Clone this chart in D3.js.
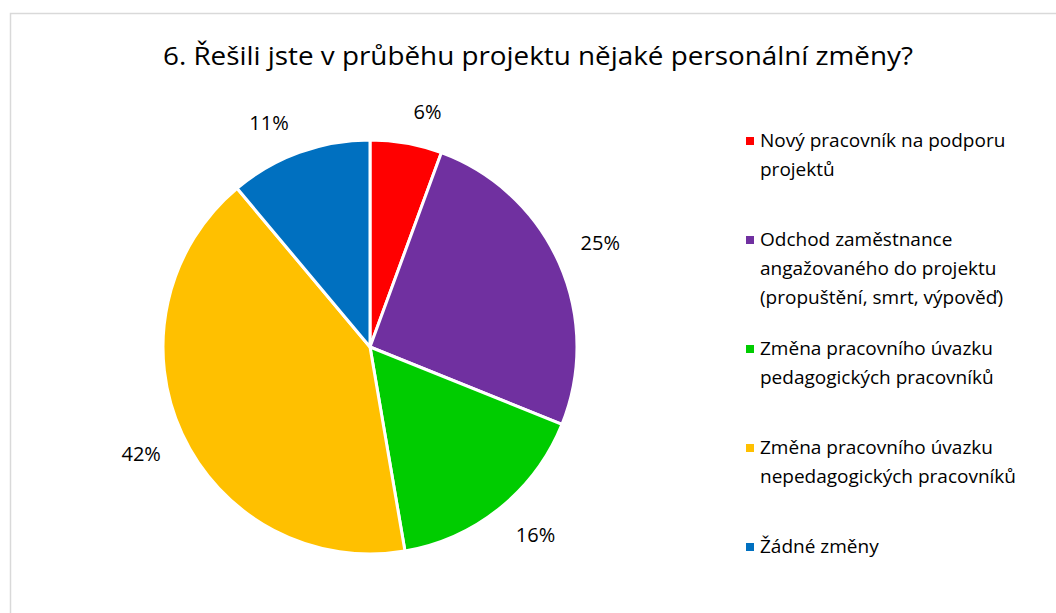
<!DOCTYPE html>
<html>
<head>
<meta charset="utf-8">
<script src="https://cdn.jsdelivr.net/npm/d3@7"></script>
<style>
  body { margin: 0; background: #fff; }
  svg text { font-family: "Open Sans", "Liberation Sans", sans-serif; fill: #000; }
</style>
</head>
<body>
<svg id="chart" width="1056" height="613"></svg>
<script>
var categories = [
  ['Nový pracovník na podporu', 'projektů'],
  ['Odchod zaměstnance', 'angažovaného do projektu', '(propuštění, smrt, výpověď)'],
  ['Změna pracovního úvazku', 'pedagogických pracovníků'],
  ['Změna pracovního úvazku', 'nepedagogických pracovníků'],
  ['Žádné změny']
];
var values = [5.6, 25.5, 16.2, 41.6, 11.1];
var labels = ['6%', '25%', '16%', '42%', '11%'];
var colors = ['#FF0000', '#7030A0', '#00CC00', '#FFC000', '#0070C0'];
var legendY = [147, 246, 355, 454, 553];

var CX = 370, CY = 347, R = 207;
var LABEL_GAP = 19;   // distance from pie edge to nearest corner of label box
var LABEL_H = 24;
var LINE_H = 29;

var svg = d3.select('#chart');

// outer frame of the chart area
svg.append('rect')
    .attr('x', 10.5).attr('y', 13.5)
    .attr('width', 1060).attr('height', 620)
    .attr('fill', 'none')
    .attr('stroke', '#d9d9d9')
    .attr('stroke-width', 1.5);

svg.append('text')
    .attr('x', 538).attr('y', 65)
    .attr('text-anchor', 'middle')
    .style('font-size', '25px')
    .attr('textLength', 750)
    .attr('lengthAdjust', 'spacingAndGlyphs')
    .text('6. Řešili jste v průběhu projektu nějaké personální změny?');

var pie = d3.pie().sort(null).value(function (d) { return d; });
var arcs = pie(values);
var arc = d3.arc().innerRadius(0).outerRadius(R);

var g = svg.append('g').attr('transform', 'translate(' + CX + ',' + CY + ')');

g.selectAll('.slice')
    .data(arcs)
    .enter().append('path')
    .attr('class', 'slice')
    .attr('d', arc)
    .attr('fill', function (d, i) { return colors[i]; })
    .attr('stroke', '#fff')
    .attr('stroke-width', 3)
    .attr('stroke-linejoin', 'round');

// labels sit outside the pie: nearest corner of the text box touches a ring
var lbl = g.selectAll('.lbl')
    .data(arcs)
    .enter().append('text')
    .attr('class', 'lbl')
    .attr('text-anchor', 'middle')
    .attr('dy', '0.35em')
    .style('font-size', '20px')
    .text(function (d, i) { return labels[i]; });

lbl.attr('transform', function (d) {
    var a = (d.startAngle + d.endAngle) / 2,
        s = Math.sin(a), c = Math.cos(a),
        w = this.getComputedTextLength() + 8,
        x = s * (R + LABEL_GAP) + Math.sign(s) * w / 2,
        y = -c * (R + LABEL_GAP) - Math.sign(c) * LABEL_H / 2;
    return 'translate(' + x + ',' + y + ')';
});

var legend = svg.selectAll('.leg')
    .data(categories)
    .enter().append('g')
    .attr('class', 'leg')
    .attr('transform', function (d, i) { return 'translate(746,' + legendY[i] + ')'; });

legend.append('rect')
    .attr('x', 0).attr('y', -10)
    .attr('width', 8).attr('height', 8)
    .attr('fill', function (d, i) { return colors[i]; });

legend.append('text')
    .attr('x', 14)
    .style('font-size', '19px')
    .selectAll('tspan')
    .data(function (d) { return d; })
    .enter().append('tspan')
    .attr('x', 14)
    .attr('dy', function (d, i) { return i === 0 ? 0 : LINE_H; })
    .text(function (d) { return d; });
</script>
</body>
</html>
